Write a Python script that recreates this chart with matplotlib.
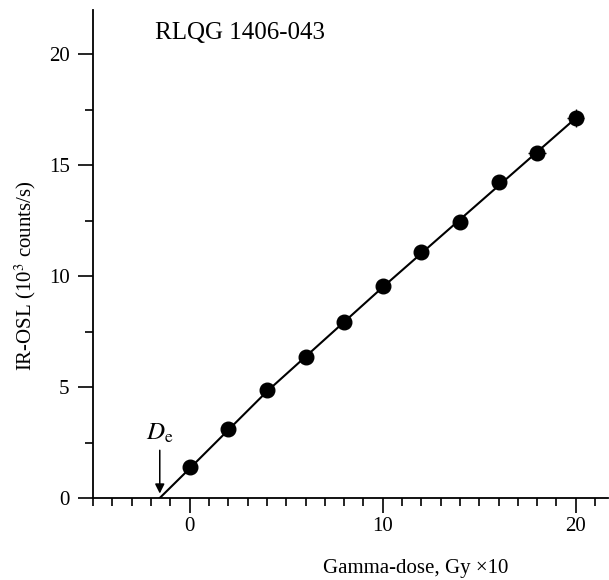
import matplotlib
matplotlib.use("Agg")
import matplotlib.pyplot as plt
from matplotlib.ticker import MultipleLocator

# Data
dose = [0, 2, 4, 6, 8, 10, 12, 14, 16, 18, 20]
irosl = [1.40, 3.09, 4.88, 6.34, 7.93, 9.56, 11.07, 12.45, 14.23, 15.57, 17.12]
dose_err = [0, 0, 0, 0, 0, 0, 0, 0, 0, 0.45, 0.45]
irosl_err = [0, 0, 0, 0, 0, 0.15, 0, 0, 0, 0.15, 0.42]
fit_x = [-1.55, 0, 4, 10, 20]
fit_y = [0.0, 1.33, 4.8, 9.5, 17.12]
de_value = -1.55
sample_name = "RLQG 1406-043"
x_label = "Gamma-dose, Gy \u00d710"
y_label = "IR-OSL (10$^3$ counts/s)"

plt.rcParams['font.family'] = ['Liberation Serif', 'DejaVu Serif']
plt.rcParams['mathtext.fontset'] = 'stix'

fig = plt.figure(figsize=(6.09, 5.80), dpi=100)
ax = fig.add_axes([0.153, 0.1414, 0.845, 0.8416])

ax.plot(fit_x, fit_y, color='black', lw=1.5, zorder=2)
ax.errorbar(dose, irosl, xerr=dose_err, yerr=irosl_err, fmt='o', color='black',
            ms=10.5, elinewidth=1.0, capsize=0, zorder=3)

ax.set_xlim(-5, 21.66)
ax.set_ylim(0, 22)

for s in ['top', 'right']:
    ax.spines[s].set_visible(False)
for s in ['left', 'bottom']:
    ax.spines[s].set_linewidth(1.3)

ax.xaxis.set_major_locator(MultipleLocator(10))
ax.xaxis.set_minor_locator(MultipleLocator(1))
ax.yaxis.set_major_locator(MultipleLocator(5))
ax.yaxis.set_minor_locator(MultipleLocator(2.5))
ax.tick_params(axis='both', which='major', direction='out', length=11, width=1.2,
               labelsize=15, pad=6)
ax.tick_params(axis='both', which='minor', direction='out', length=6, width=1.2)
ax.tick_params(axis='x', which='major', pad=3)

ax.text(-1.8, 20.95, sample_name, fontsize=18, ha='left', va='center')

ax.annotate('', xy=(de_value, 0.2), xytext=(de_value, 2.15),
            arrowprops=dict(arrowstyle='-|>', color='black', lw=1.1,
                            mutation_scale=14, shrinkA=0, shrinkB=0))
ax.text(de_value, 2.4, r'$D_{\mathrm{e}}$', fontsize=18, ha='center', va='bottom')

fig.text(0.041, 0.524, y_label, fontsize=15, rotation=90, ha='center', va='center')
fig.text(0.682, 0.02, x_label, fontsize=15, ha='center', va='center')

fig.savefig('out.png', dpi=100)
